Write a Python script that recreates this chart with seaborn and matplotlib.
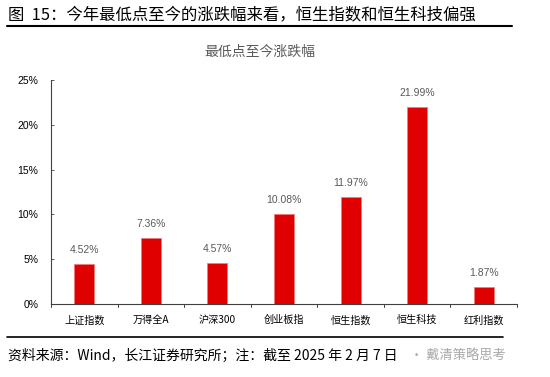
import matplotlib
matplotlib.use("Agg")
import matplotlib.pyplot as plt
import seaborn as sns
import pandas as pd
from matplotlib.lines import Line2D

categories = ["上证指数", "万得全A", "沪深300", "创业板指", "恒生指数", "恒生科技", "红利指数"]
values = [4.52, 7.36, 4.57, 10.08, 11.97, 21.99, 1.87]
yticks = [0, 5, 10, 15, 20, 25]

sns.set_theme(style="white")
plt.rcParams['font.family'] = ['Noto Sans CJK SC', 'DejaVu Sans']

df = pd.DataFrame({"cat": categories, "val": values})

fig = plt.figure(figsize=(5.5, 3.77), dpi=100)
ax = fig.add_axes([51/550, 1-304/377, (517-51)/550, (304-80)/377])
sns.barplot(data=df, x="cat", y="val", color="#E00000", width=0.3,
            edgecolor="#F27A7A", linewidth=0.6, saturation=1, ax=ax)

for i, v in enumerate(values):
    ax.text(i, v + 1.0, f"{v:.2f}%", ha="center", va="bottom", fontsize=7.5,
            color="#595959", family=['Liberation Sans', 'DejaVu Sans'])

ax.set_ylim(0, 25)
ax.set_xlim(-0.5, len(categories) - 0.5)
ax.set_yticks(yticks)
ax.set_yticklabels([f"{t}%" for t in yticks], fontsize=7.5, color="#000000",
                   family=['Liberation Sans', 'DejaVu Sans'])
ax.set_xticks(range(len(categories)))
ax.set_xticklabels(categories, fontsize=7.3, color="#000000")
ax.tick_params(axis="x", length=0, pad=8)
ax.tick_params(axis="y", direction="in", length=2, width=0.6, color="#404040", left=True, pad=9)
# boundary ticks on x axis
for b in [i + 0.5 for i in range(-1, len(categories))]:
    ax.plot([b, b], [0, -0.35], transform=ax.transData, color="#404040", lw=0.7, clip_on=False)
ax.set_xlabel("")
ax.set_ylabel("")
for s in ["top", "right"]:
    ax.spines[s].set_visible(False)
for s in ["left", "bottom"]:
    ax.spines[s].set_color("#404040")
    ax.spines[s].set_linewidth(0.8)

fig.text(8/550, 1-15/377, "图  15：今年最低点至今的涨跌幅来看，恒生指数和恒生科技偏强",
         fontsize=11.8, ha="left", va="center", color="#000000")
fig.add_artist(Line2D([7/550, 512/550], [1-26/377, 1-26/377], color="#000000", lw=1.5,
                      transform=fig.transFigure))
fig.text(260/550, 1-52/377, "最低点至今涨跌幅", fontsize=10, ha="center", va="center", color="#595959")
fig.add_artist(Line2D([7/550, 503/550], [1-337/377, 1-337/377], color="#000000", lw=1.2,
                      transform=fig.transFigure))
fig.text(8/550, 1-356/377, "资料来源：Wind，长江证券研究所；注：截至 2025 年 2 月 7 日",
         fontsize=10, ha="left", va="center", color="#000000")
fig.text(410/550, 1-355/377, "· 戴清策略思考", fontsize=9.5, ha="left", va="center", color="#A8A8A8")

fig.savefig("out.png", dpi=100)
